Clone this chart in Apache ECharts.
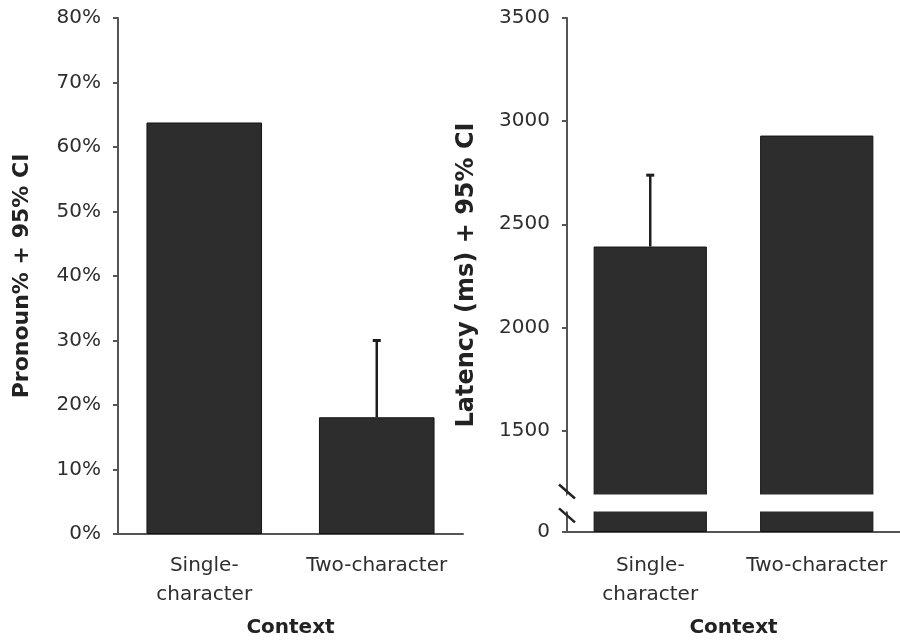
<!DOCTYPE html>
<html><head><meta charset="utf-8">
<script src="https://cdn.jsdelivr.net/npm/echarts@6/dist/echarts.min.js"></script>
<style>html,body{margin:0;padding:0;background:#fff}#c{width:900px;height:643px}</style>
</head><body><div id="c"></div>
<script>
// ---- data ----
const categories = ['Single-\ncharacter', 'Two-character'];
const pronounPct = [63.8, 18.1];
const pronounUpper = [null, 30.0];
const latencyMs = [2392, 2930];
const latencyUpper = [2738, null];
const pronounTicks = [0, 10, 20, 30, 40, 50, 60, 70, 80];
const latencyTicks = [0, 1500, 2000, 2500, 3000, 3500];
const latencyBreakStart = 100;
const latencyBreakEnd = 1190;
const latencyBreakGap = 82;

const FONT = 'DejaVu Sans';
const TXT = '#2e2e2e';
const AX = '#555';
const BAR = '#2d2d2d';

const chart = echarts.init(document.getElementById('c'), null, {renderer: 'canvas'});

function errorSeries(idx, values, upper) {
  const data = [];
  values.forEach((v, i) => { if (upper[i] != null) data.push([i, v, upper[i]]); });
  return {
    type: 'custom', xAxisIndex: idx, yAxisIndex: idx, z: 10, silent: true,
    data: data,
    renderItem: function (params, api) {
      const base = api.coord([api.value(0), api.value(1)]);
      const top = api.coord([api.value(0), api.value(2)]);
      return {
        type: 'group', children: [
          {type: 'line', shape: {x1: base[0], y1: base[1], x2: top[0], y2: top[1]}, style: {stroke: '#1e1e1e', lineWidth: 2.5}},
          {type: 'line', shape: {x1: top[0] - 4, y1: top[1], x2: top[0] + 4, y2: top[1]}, style: {stroke: '#1e1e1e', lineWidth: 3}}
        ]
      };
    }
  };
}

function xAxisFor(gridIndex, labelMargin, nameGap) {
  return {
    gridIndex: gridIndex,
    type: 'category', data: categories,
    axisLine: {lineStyle: {color: AX, width: 2}},
    axisTick: {show: false},
    axisLabel: {fontFamily: FONT, fontSize: 20, color: TXT, lineHeight: 29, margin: labelMargin, interval: 0},
    name: 'Context', nameLocation: 'middle', nameGap: nameGap,
    nameTextStyle: {fontFamily: FONT, fontSize: 20, fontWeight: 'bold', color: '#222'}
  };
}

const option = {
  backgroundColor: '#fff',
  animation: false,
  grid: [
    {left: 118, top: 18, width: 345, height: 517},
    {left: 567, top: 18, width: 342, height: 515}
  ],
  xAxis: [
    xAxisFor(0, 17, 84),
    xAxisFor(1, 19, 86)
  ],
  yAxis: [
    {
      gridIndex: 0, type: 'value', min: 0, max: 80, interval: 10,
      splitLine: {show: false},
      axisLine: {show: true, lineStyle: {color: AX, width: 2}},
      axisTick: {show: true, length: 5, lineStyle: {color: AX, width: 2}, customValues: pronounTicks},
      axisLabel: {fontFamily: FONT, fontSize: 20, color: TXT, margin: 17, formatter: '{value}%', customValues: pronounTicks},
      name: 'Pronoun% + 95% CI', nameLocation: 'middle', nameGap: 85, nameRotate: 90,
      nameTextStyle: {fontFamily: FONT, fontSize: 22, fontWeight: 'bold', color: '#222'}
    },
    {
      gridIndex: 1, type: 'value', min: 0, max: 3500, interval: 500,
      breaks: [{start: latencyBreakStart, end: latencyBreakEnd, gap: latencyBreakGap}],
      breakArea: {
        show: true, expandOnClick: false,
        zigzagAmplitude: 0, zigzagZ: 100,
        itemStyle: {color: '#fff', borderColor: '#fff', borderWidth: 0, opacity: 1}
      },
      splitLine: {show: false},
      axisLine: {show: true, lineStyle: {color: AX, width: 2}},
      axisTick: {show: true, length: 5, lineStyle: {color: AX, width: 2}, customValues: latencyTicks},
      axisLabel: {fontFamily: FONT, fontSize: 20, color: TXT, margin: 17, customValues: latencyTicks,
        formatter: function (v) { return String(v); }},
      name: 'Latency (ms) + 95% CI', nameLocation: 'middle', nameGap: 88, nameRotate: 90,
      nameTextStyle: {fontFamily: FONT, fontSize: 24, fontWeight: 'bold', color: '#222'}
    }
  ],
  series: [
    {type: 'bar', xAxisIndex: 0, yAxisIndex: 0, data: pronounPct, barWidth: '67%',
      itemStyle: {color: BAR, borderColor: '#141414', borderWidth: 1}},
    {type: 'bar', xAxisIndex: 1, yAxisIndex: 1, data: latencyMs, barWidth: '68%',
      itemStyle: {color: BAR, borderColor: '#141414', borderWidth: 1}},
    errorSeries(0, pronounPct, pronounUpper),
    errorSeries(1, latencyMs, latencyUpper),
    {
      type: 'custom', xAxisIndex: 1, yAxisIndex: 1, z: 200, silent: true, clip: false,
      data: [[0, latencyBreakStart, latencyBreakEnd]],
      renderItem: function (params, api) {
        const x = params.coordSys.x;
        const ya = api.coord([0, api.value(1)])[1];
        const yb = api.coord([0, api.value(2)])[1];
        const mk = (y) => ({type: 'line', shape: {x1: x - 8, y1: y - 7, x2: x + 8, y2: y + 7}, style: {stroke: '#222', lineWidth: 2.5}});
        return {type: 'group', children: [mk(yb - 3), mk(ya + 4)]};
      }
    }
  ]
};
chart.setOption(option);
</script>
</body></html>
